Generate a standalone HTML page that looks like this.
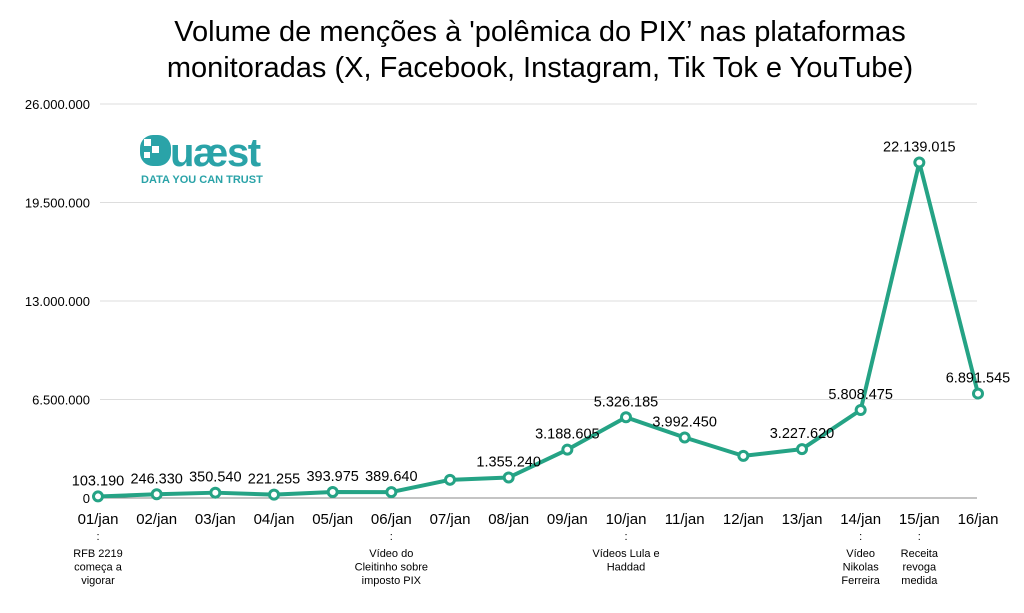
<!DOCTYPE html>
<html><head><meta charset="utf-8"><style>
html,body{margin:0;padding:0;background:#fff;}
body{width:1024px;height:613px;overflow:hidden;position:relative;font-family:"Liberation Sans",sans-serif;}
#title{position:absolute;left:0;top:14px;width:1080px;text-align:center;font-size:29px;line-height:36px;color:#000;}
</style></head><body>
<div id="title">Volume de menções à 'polêmica do PIX’ nas plataformas<br>monitoradas (X, Facebook, Instagram, Tik Tok e YouTube)</div>
<svg id="chart" width="1024" height="613" style="position:absolute;left:0;top:0;font-family:'Liberation Sans',sans-serif;">
<g>
<rect x="140" y="135" width="31" height="31" rx="13" fill="#2aa3a8"/>
<rect x="144" y="139" width="7" height="7" fill="#fff"/><rect x="152" y="146" width="7" height="7" fill="#fff"/><rect x="144" y="152" width="6" height="6" fill="#fff"/>
<text x="170" y="166" font-size="40" font-weight="bold" fill="#2aa3a8" letter-spacing="-1.5">uæst</text>
<text x="141" y="183" font-size="11" font-weight="bold" fill="#2aa3a8">DATA YOU CAN TRUST</text>
</g>
<g id="grid"></g><g id="series"></g><g id="labels"></g>
</svg>
<script>
const categories=["01/jan","02/jan","03/jan","04/jan","05/jan","06/jan","07/jan","08/jan","09/jan","10/jan","11/jan","12/jan","13/jan","14/jan","15/jan","16/jan"];
const values=[103190,246330,350540,221255,393975,389640,1200000,1355240,3188605,5326185,3992450,2780000,3227620,5808475,22139015,6891545];
const valueLabels=["103.190","246.330","350.540","221.255","393.975","389.640","","1.355.240","3.188.605","5.326.185","3.992.450","","3.227.620","5.808.475","22.139.015","6.891.545"];
const yTicks=[0,6500000,13000000,19500000,26000000];
const yTickLabels=["0","6.500.000","13.000.000","19.500.000","26.000.000"];
const notes={0:["RFB 2219","começa a","vigorar"],5:["Vídeo do","Cleitinho sobre","imposto PIX"],9:["Vídeos Lula e","Haddad"],13:["Vídeo","Nikolas","Ferreira"],14:["Receita","revoga","medida"]};
const NS="http://www.w3.org/2000/svg";
const x=i=>98+i*(978-98)/15;
const y=v=>498-v*(498-104)/26000000;
function mk(tag,attrs,parent,txt){const e=document.createElementNS(NS,tag);for(const k in attrs)e.setAttribute(k,attrs[k]);if(txt!==undefined)e.textContent=txt;parent.appendChild(e);return e;}
const grid=document.getElementById('grid'),series=document.getElementById('series'),labels=document.getElementById('labels');
yTicks.forEach((t,i)=>{
 const l=mk('line',{x1:100,x2:977,y1:y(t),y2:y(t),stroke:i==0?'#888':'#ddd','stroke-width':1},grid);
 
 
 const tx=mk('text',{x:90,y:y(t)+5,'text-anchor':'end','font-size':13,fill:'#000'},grid,yTickLabels[i]);
 
 
});
const pts=values.map((v,i)=>x(i)+','+y(v)).join(' ');
const pl=mk('polyline',{points:pts,fill:'none',stroke:'#25a385','stroke-width':4,'stroke-linejoin':'round'},series);


values.forEach((v,i)=>{
 const c=mk('circle',{cx:x(i),cy:y(v),r:4.5,fill:'#fff',stroke:'#25a385','stroke-width':3},series);
 
 
 if(valueLabels[i]){const t=mk('text',{x:x(i),y:y(v)-11,'text-anchor':'middle','font-size':14.5,fill:'#000'},labels,valueLabels[i]);
 
 }
 const xl=mk('text',{x:x(i),y:524,'text-anchor':'middle','font-size':15,fill:'#000'},labels,categories[i]);
 
 
 if(notes[i]){
  const d=mk('text',{x:x(i),y:540,'text-anchor':'middle','font-size':11,fill:'#000'},labels,':');
  
  
  notes[i].forEach((s,j)=>{const n=mk('text',{x:x(i),y:557+j*13.5,'text-anchor':'middle','font-size':11,fill:'#000'},labels,s);
  
  });
 }
});
</script>
</body></html>
